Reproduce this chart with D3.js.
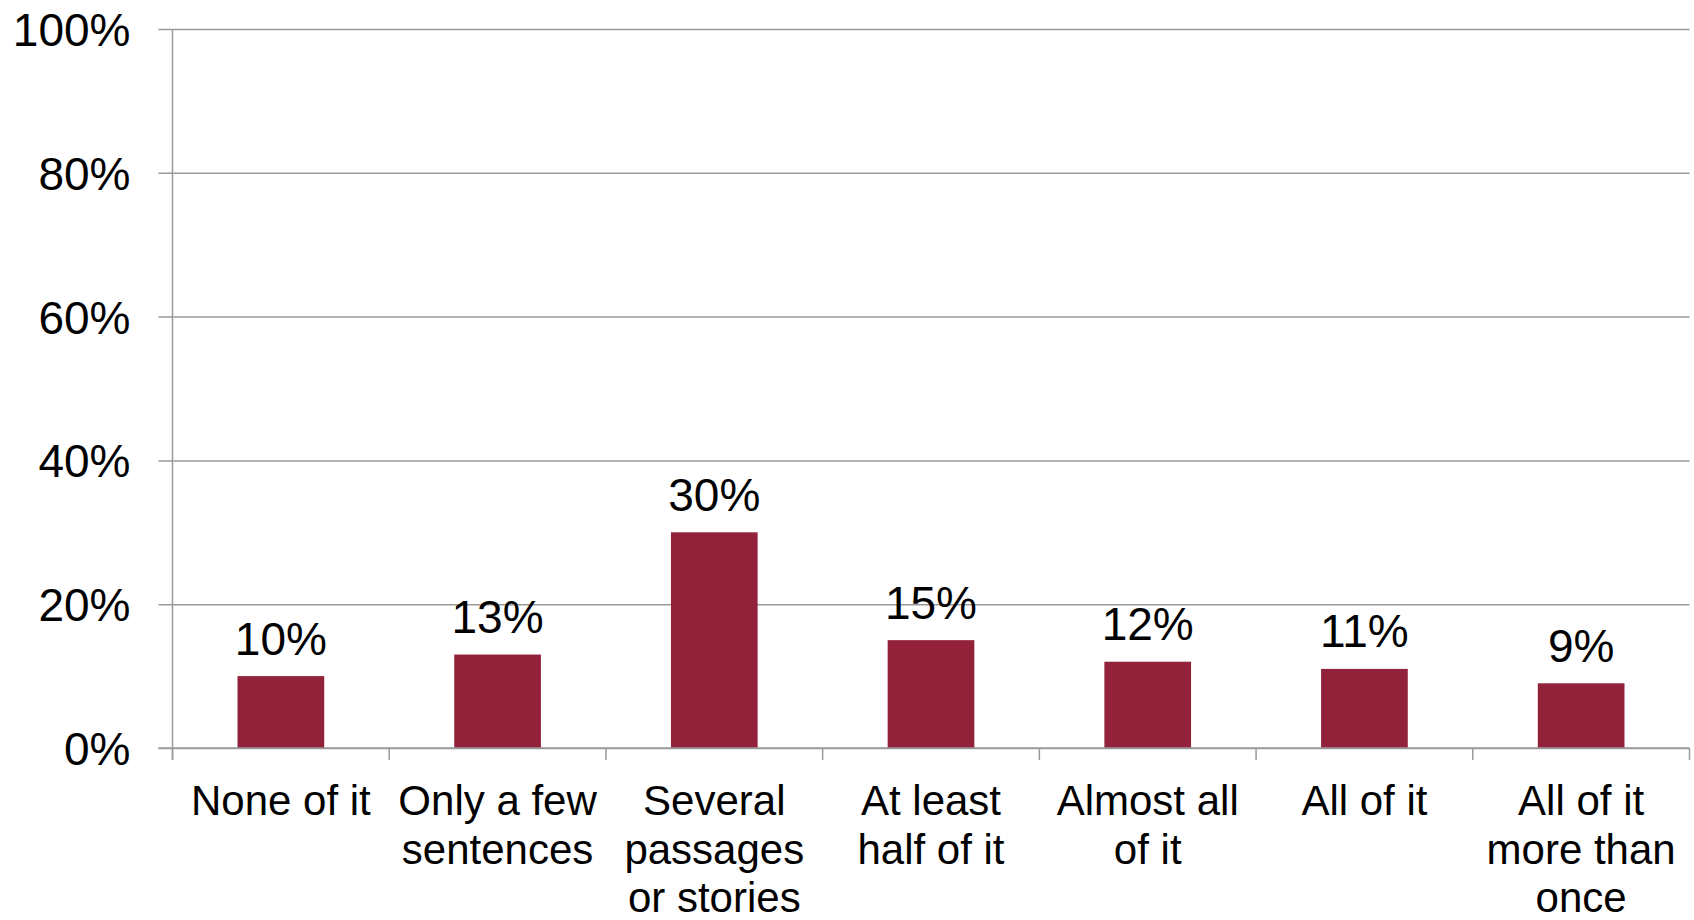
<!DOCTYPE html>
<html>
<head>
<meta charset="utf-8">
<script src="https://cdn.jsdelivr.net/npm/d3@7"></script>
<style>
  html, body { margin: 0; padding: 0; background: #fff; }
  svg { display: block; font-family: "Liberation Sans", Arial, sans-serif; }
</style>
</head>
<body>
<svg id="chart" width="1694" height="920"></svg>
<script>
const categories = [
  ["None of it"],
  ["Only a few", "sentences"],
  ["Several", "passages", "or stories"],
  ["At least", "half of it"],
  ["Almost all", "of it"],
  ["All of it"],
  ["All of it", "more than", "once"]
];
const values = [10, 13, 30, 15, 12, 11, 9];
const yTicks = [0, 20, 40, 60, 80, 100];

const svg = d3.select("#chart");
const margin = { left: 172.5, right: 1694 - 1689.5, top: 29, bottom: 920 - 748 };
const W = 1694, H = 920;

const x = d3.scaleBand()
  .domain(d3.range(categories.length))
  .range([margin.left, W - margin.right])
  .paddingInner(0.6)
  .paddingOuter(0.3);
const y = d3.scaleLinear().domain([0, 100]).range([H - margin.bottom, margin.top]);

const gridColor = "#9a9a9a";

// gridlines + y labels
const yAxis = d3.axisLeft(y)
  .tickValues(yTicks)
  .tickSize(-(W - margin.right - margin.left))
  .tickFormat(d => d + "%");
const gy = svg.append("g").attr("transform", `translate(${margin.left},0)`).call(yAxis);
gy.select(".domain").remove();
gy.selectAll(".tick line").attr("stroke", gridColor).attr("stroke-width", 1.5)
  .attr("x1", -14).attr("x2", W - margin.right - margin.left);
gy.selectAll(".tick text")
  .attr("x", -42)
  .attr("dy", "0.36em")
  .attr("fill", "#000")
  .style("font-size", "46px")
  .style("font-family", "'Liberation Sans', Arial, sans-serif");

// y axis line
svg.append("line")
  .attr("x1", margin.left).attr("x2", margin.left)
  .attr("y1", y(100)).attr("y2", y(0) + 12)
  .attr("stroke", gridColor).attr("stroke-width", 1.5);

// category boundary ticks
const step = x.step();
const boundaries = d3.range(categories.length + 1).map(i => margin.left + i * step);
svg.append("g").selectAll("line").data(boundaries).join("line")
  .attr("x1", d => d).attr("x2", d => d)
  .attr("y1", y(0)).attr("y2", y(0) + 12)
  .attr("stroke", gridColor).attr("stroke-width", 1.5);

// bars
svg.append("g").selectAll("rect").data(values).join("rect")
  .attr("x", (d, i) => x(i))
  .attr("width", x.bandwidth())
  .attr("y", d => y(d))
  .attr("height", d => y(0) - y(d))
  .attr("fill", "#92223a");

// bottom axis line redraw over bars
svg.append("line")
  .attr("x1", margin.left - 14).attr("x2", W - margin.right)
  .attr("y1", y(0)).attr("y2", y(0))
  .attr("stroke", gridColor).attr("stroke-width", 1.5);

// data labels
svg.append("g").selectAll("text").data(values).join("text")
  .attr("x", (d, i) => x(i) + x.bandwidth() / 2)
  .attr("y", d => y(d) - 21.5)
  .attr("text-anchor", "middle")
  .style("font-size", "46px")
  .attr("fill", "#000")
  .text(d => d + "%");

// category labels
const cat = svg.append("g").selectAll("text").data(categories).join("text")
  .attr("x", (d, i) => x(i) + x.bandwidth() / 2)
  .attr("y", y(0) + 67)
  .attr("text-anchor", "middle")
  .style("font-size", "42px")
  .attr("fill", "#000");
cat.each(function(lines) {
  const t = d3.select(this);
  const cx = t.attr("x");
  lines.forEach((ln, j) => {
    t.append("tspan").attr("x", cx).attr("dy", j === 0 ? 0 : 48.5).text(ln);
  });
});
</script>
</body>
</html>
